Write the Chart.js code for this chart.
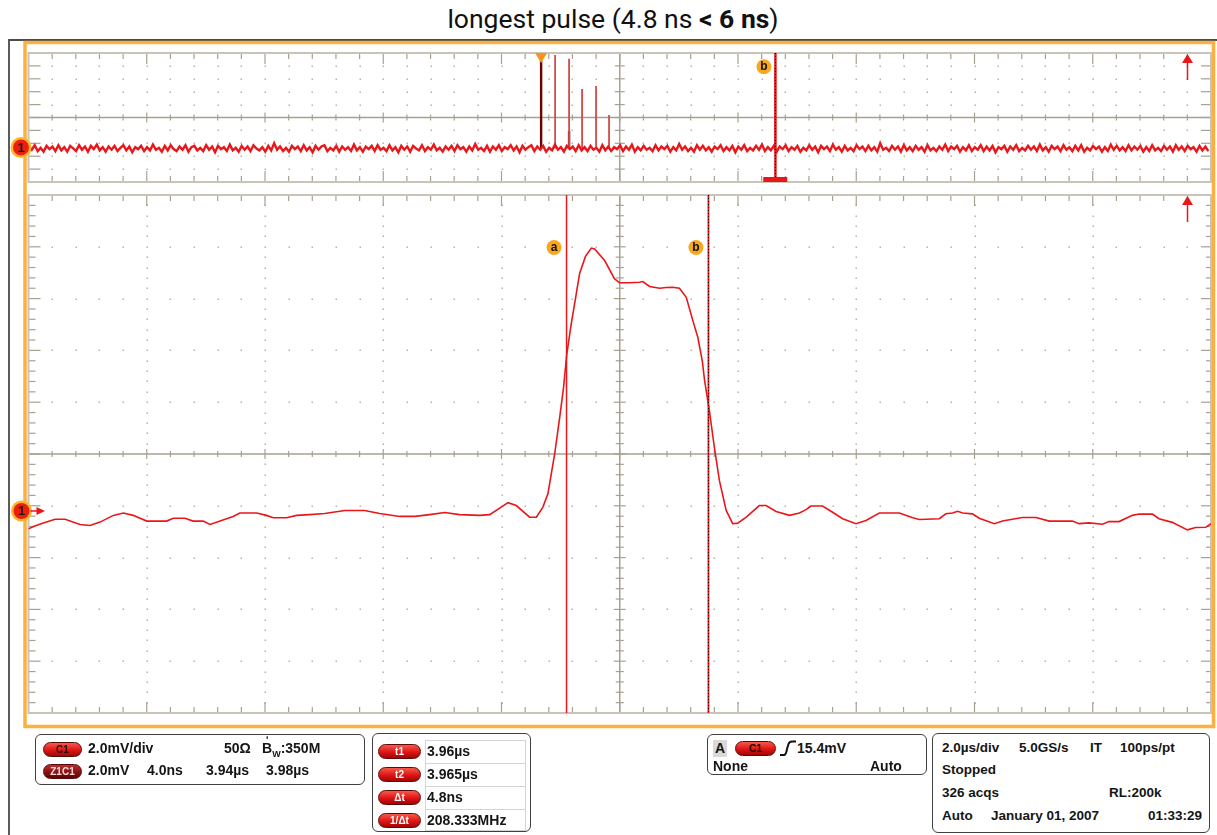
<!DOCTYPE html>
<html>
<head>
<meta charset="utf-8">
<script src="https://cdn.jsdelivr.net/npm/chart.js@4.4.0/dist/chart.umd.min.js"></script>
<style>
  body { margin: 0; background: #fff; }
  #page { position: relative; width: 1217px; height: 835px; overflow: hidden; }
  canvas { position: absolute; left: 0; top: 0; }
  #title { position: absolute; left: 9px; width: 1208px; top: 3px; line-height: 30px; text-align: center; font: 26.5px Roboto, sans-serif; color: #111; }
  .box { position: absolute; border: 1.5px solid #404040; border-radius: 6px; box-sizing: border-box; background: #fff; }
  .t { position: absolute; font: bold 14px "Liberation Sans", Arial, sans-serif; color: #151515; line-height: 16px; white-space: nowrap; }
  .s { font-size: 13.5px; }
  .pill { position: absolute; height: 15px; border-radius: 8px; box-sizing: border-box; border: 1px solid #5a0a0a;
          background: linear-gradient(#f65a4a, #de1414 55%, #a00606); font: bold 10px "Liberation Sans", Arial, sans-serif;
          text-align: center; line-height: 13px; color: #2a0000; }
  .pill.dark { background: linear-gradient(#b83030, #8a1010 55%, #5a0505); color: #ffdada; }
  .pill.light { color: #fff; }
  .cell { position: absolute; border: 1px solid #d4d4d4; box-sizing: border-box; }
</style>
</head>
<body>
<div id="page">
  <div id="title">longest pulse (4.8 ns <b>&lt; 6 ns</b>)</div>
  <canvas id="zoomChart" width="1217" height="835"></canvas>
  <canvas id="overviewChart" width="1217" height="835"></canvas>

  <div class="box" style="left:35px;top:734px;width:330px;height:51px"></div>
  <div class="pill" style="left:43px;top:742px;width:39px">C1</div>
  <div class="t" style="left:88px;top:740px">2.0mV/div</div>
  <div class="t" style="left:224px;top:740px">50Ω</div>
  <div class="t" style="left:262px;top:740px">B<span style="font-size:9px;position:relative;top:4px">W</span>:350M</div>
  <div class="t" style="left:266px;top:733px;font-size:10px">ʹ</div>
  <div class="pill dark" style="left:43px;top:764px;width:39px">Z1C1</div>
  <div class="t" style="left:88px;top:762px">2.0mV</div>
  <div class="t" style="left:147px;top:762px">4.0ns</div>
  <div class="t" style="left:206px;top:762px">3.94µs</div>
  <div class="t" style="left:266px;top:762px">3.98µs</div>

  <div class="box" style="left:372px;top:733px;width:159px;height:99px"></div>
  <div class="cell" style="left:425px;top:740px;width:101px;height:24px"></div>
  <div class="cell" style="left:425px;top:763px;width:101px;height:24px"></div>
  <div class="cell" style="left:425px;top:786px;width:101px;height:24px"></div>
  <div class="cell" style="left:425px;top:809px;width:101px;height:22px"></div>
  <div class="pill light" style="left:378px;top:744px;width:43px">t1</div>
  <div class="pill light" style="left:378px;top:767px;width:43px">t2</div>
  <div class="pill light" style="left:378px;top:790px;width:43px">Δt</div>
  <div class="pill light" style="left:378px;top:813px;width:43px">1/Δt</div>
  <div class="t" style="left:427px;top:743px">3.96µs</div>
  <div class="t" style="left:427px;top:766px">3.965µs</div>
  <div class="t" style="left:427px;top:789px">4.8ns</div>
  <div class="t" style="left:427px;top:812px">208.333MHz</div>

  <div class="box" style="left:707px;top:734px;width:220px;height:41px"></div>
  <div class="t" style="left:713px;top:740px;width:14px;height:17px;background:#d9d9d9;text-align:center;line-height:17px">A</div>
  <div class="pill" style="left:735px;top:741px;width:41px">C1</div>
  <svg style="position:absolute;left:779px;top:740px" width="18" height="17">
    <path d="M1 15 H5 Q7 15 8 9 L9.5 4 Q10.5 1.5 13 1.5 H17" fill="none" stroke="#111" stroke-width="2"/>
  </svg>
  <div class="t" style="left:797px;top:740px">15.4mV</div>
  <div class="t" style="left:713px;top:758px">None</div>
  <div class="t" style="left:870px;top:758px">Auto</div>

  <div class="box" style="left:932px;top:733px;width:278px;height:100px"></div>
  <div class="t s" style="left:942px;top:740px">2.0µs/div</div>
  <div class="t s" style="left:1019px;top:740px">5.0GS/s</div>
  <div class="t s" style="left:1090px;top:740px">IT</div>
  <div class="t s" style="left:1120px;top:740px">100ps/pt</div>
  <div class="t s" style="left:942px;top:762px">Stopped</div>
  <div class="t s" style="left:942px;top:785px">326 acqs</div>
  <div class="t s" style="left:1109px;top:785px">RL:200k</div>
  <div class="t s" style="left:942px;top:808px">Auto</div>
  <div class="t s" style="left:991px;top:808px">January 01, 2007</div>
  <div class="t s" style="left:1148px;top:808px">01:33:29</div>
</div>
<script>
// overview record (top panel): time in µs, trigger at 0, level in mV
const overviewRange = [-8.67, 11.33];
const overviewLevels = [-5.2, 14.8];
const noiseStart = -8.665;
const noiseStep = 0.05;
const overviewNoise = [
  0.3, -0.2, 0.5, -0.4, 0.1, -0.5, 0.4, -0.1, 0.3, -0.4,
  0.5, -0.3, 0.2, -0.5, 0.4, 0.0, -0.4, 0.5, -0.2, 0.3,
  -0.5, 0.4, -0.1, 0.6, -0.3, 0.2, -0.5, 0.3, -0.2, 0.4,
  -0.4, 0.1, 0.5, -0.3, 0.3, -0.6, 0.2, -0.1, 0.4, -0.4,
  0.2, -0.3, 0.6, -0.2, 0.1, -0.5, 0.4, -0.3, 0.5, -0.1,
  -0.4, 0.3, -0.2, 0.5, -0.5, 0.2, 0.4, -0.3, 0.1, -0.4,
  0.5, -0.2, 0.3, -0.6, 0.4, -0.1, 0.2, -0.4, 0.6, -0.3,
  0.1, -0.5, 0.4, -0.2, 0.3, -0.4, 0.5, 0.0, -0.3, 0.2,
  -0.5, 0.4, -0.3, 0.8, -0.2, 0.3, -0.4, 0.1, -0.5, 0.4,
  -0.1, 0.3, -0.4, 0.5, -0.3, 0.2, -0.6, 0.4, -0.2, 0.3,
  0.5, -0.4, 0.1, -0.3, 0.4, -0.5, 0.3, -0.2, 0.2, -0.4,
  0.6, -0.3, 0.2, -0.5, 0.3, -0.1, 0.4, -0.4, 0.5, -0.2,
  0.1, -0.4, 0.5, -0.3, 0.2, -0.6, 0.4, -0.2, 0.3, -0.5,
  0.4, 0.0, -0.3, 0.5, -0.4, 0.2, -0.2, 0.6, -0.3, 0.1,
  -0.5, 0.3, -0.2, 0.4, -0.4, 0.5, -0.1, 0.2, -0.5, 0.3,
  -0.3, 0.7, -0.2, 0.1, -0.4, 0.4, -0.5, 0.3, -0.2, 0.5,
  -0.4, 0.2, -0.1, 0.5, -0.3, 0.3, -0.6, 0.4, -0.2, 0.2,
  0.5, -0.4, 0.3, -0.2, 0.4, -0.5, 0.1, -0.3, 0.6, -0.2,
  0.2, -0.5, 0.4, -0.1, 0.3, -0.4, 0.5, -0.3, 0.2, -0.4,
  0.4, -0.2, 0.1, -0.5, 0.5, -0.3, 0.3, -0.4, 0.2, -0.1,
  0.5, -0.4, 0.3, -0.2, 0.6, -0.5, 0.2, -0.3, 0.4, -0.2,
  0.1, -0.4, 0.5, -0.3, 0.3, -0.1, 0.4, -0.5, 0.2, -0.3,
  0.7, -0.2, 0.3, -0.4, 0.1, -0.5, 0.5, -0.2, 0.4, -0.3,
  0.2, -0.5, 0.3, -0.1, 0.5, -0.4, 0.2, -0.3, 0.4, -0.6,
  0.3, -0.2, 0.5, -0.4, 0.1, -0.3, 0.4, -0.2, 0.6, -0.4,
  0.2, -0.3, 0.4, -0.5, 0.3, -0.1, 0.5, -0.4, 0.2, -0.2,
  0.4, -0.5, 0.1, -0.3, 0.5, -0.2, 0.3, -0.6, 0.4, -0.1,
  0.3, -0.4, 0.6, -0.2, 0.2, -0.5, 0.4, -0.3, 0.1, -0.4,
  0.5, -0.1, 0.3, -0.4, 0.4, -0.3, 0.2, -0.5, 0.8, -0.2,
  0.1, -0.4, 0.4, -0.2, 0.3, -0.5, 0.5, -0.3, 0.2, -0.4,
  0.4, -0.2, 0.2, -0.5, 0.5, -0.3, 0.1, -0.4, 0.3, -0.2,
  0.6, -0.4, 0.3, -0.1, 0.4, -0.5, 0.2, -0.3, 0.5, -0.4,
  0.2, -0.2, 0.5, -0.4, 0.3, -0.3, 0.4, -0.6, 0.2, -0.1,
  0.4, -0.5, 0.3, -0.2, 0.5, -0.4, 0.1, -0.3, 0.4, -0.2,
  0.3, -0.4, 0.6, -0.3, 0.2, -0.5, 0.4, -0.1, 0.3, -0.4,
  0.5, -0.2, 0.2, -0.4, 0.4, -0.3, 0.5, -0.5, 0.1, -0.3,
  0.4, -0.1, 0.3, -0.5, 0.2, -0.4, 0.6, -0.2, 0.4, -0.3,
  0.2, -0.4, 0.5, -0.3, 0.3, -0.2, 0.4, -0.5, 0.2, -0.4,
  0.5, -0.3, 0.1, -0.4, 0.4, -0.2, 0.3, -0.5, 0.5, -0.2,
  0.3, -0.4, 0.4, -0.1, 0.2, -0.5, 0.4, -0.3, 0.3, -0.4,
];
const spikeTimes = [0.237, 0.473, 0.693, 0.929, 1.149, 3.96];
const spikePeaks = [14.5, 13.9, 9.2, 9.7, 5.2, 12.5];
const triggerSpikes = [[0, 14.8], [0.473, 2.7]];
const zoomWindow = 3.96;

// zoom window (bottom panel): time in ns, level in mV
const zoomRange = [3940, 3980];
const zoomLevels = [-7.8, 12.2];
const pulseTimes = [
  3940.0, 3940.17, 3940.5, 3940.9, 3941.24, 3941.74, 3942.08, 3942.42, 3942.87, 3943.21,
  3943.54, 3944.0, 3944.67, 3944.9, 3945.29, 3945.57, 3945.91, 3946.14, 3946.48, 3946.92,
  3947.15, 3947.72, 3948.05, 3948.28, 3948.73, 3949.07, 3949.51, 3950.02, 3950.7, 3951.37,
  3951.88, 3952.56, 3953.07, 3953.57, 3954.08, 3954.58, 3955.26, 3955.6, 3956.22, 3956.5,
  3956.95, 3957.18, 3957.4, 3957.57, 3957.8, 3957.97, 3958.1, 3958.21, 3958.36, 3958.53,
  3958.64, 3958.84, 3959.04, 3959.15, 3959.49, 3959.82, 3959.99, 3960.33, 3960.67, 3960.78,
  3961.01, 3961.35, 3961.57, 3961.79, 3962.02, 3962.25, 3962.47, 3962.64, 3962.79, 3962.87,
  3963.03, 3963.2, 3963.37, 3963.6, 3963.82, 3963.99, 3964.28, 3964.72, 3964.95, 3965.29,
  3965.74, 3966.08, 3966.3, 3966.47, 3966.86, 3967.2, 3967.54, 3967.99, 3968.33, 3968.78,
  3969.46, 3969.91, 3970.13, 3970.81, 3971.03, 3971.26, 3971.43, 3971.6, 3971.93, 3972.16,
  3972.67, 3972.95, 3973.28, 3973.62, 3974.08, 3974.53, 3975.31, 3975.54, 3975.88, 3976.33,
  3976.55, 3976.89, 3977.34, 3977.57, 3978.02, 3978.24, 3978.69, 3979.2, 3979.48, 3979.82, 3980.0,
];
const pulseValues = [
  -0.69, -0.60, -0.46, -0.32, -0.32, -0.52, -0.56, -0.43, -0.17, -0.08,
  -0.17, -0.39, -0.39, -0.28, -0.28, -0.39, -0.39, -0.52, -0.39, -0.21,
  -0.08, -0.08, -0.17, -0.26, -0.26, -0.17, -0.14, -0.10, 0.02, 0.02,
  -0.10, -0.21, -0.21, -0.14, -0.06, -0.14, -0.17, -0.14, 0.32, 0.21,
  -0.24, -0.24, 0.15, 0.66, 2.21, 3.62, 4.78, 6.07, 7.23, 8.39,
  9.16, 9.83, 10.15, 10.12, 9.67, 8.97, 8.81, 8.81, 8.83, 8.86,
  8.67, 8.60, 8.63, 8.64, 8.60, 8.25, 7.36, 6.71, 5.81, 5.04,
  3.88, 2.46, 1.18, 0.02, -0.49, -0.47, -0.24, 0.21, 0.21, -0.02,
  -0.17, -0.08, 0.05, 0.19, 0.19, -0.05, -0.30, -0.49, -0.37, -0.08,
  -0.08, -0.26, -0.33, -0.30, -0.11, -0.08, -0.01, -0.08, -0.11, -0.28,
  -0.49, -0.39, -0.32, -0.25, -0.25, -0.39, -0.39, -0.49, -0.46, -0.51,
  -0.41, -0.41, -0.17, -0.12, -0.12, -0.30, -0.44, -0.73, -0.64, -0.63, -0.49,
];
const cursorA = 3958.2;
const cursorB = 3963.0;

const traceRed = "#e8171a";
const gratColor = "#a7a191";

const line = (ctx, x1, y1, x2, y2) => {
  ctx.beginPath();
  ctx.moveTo(x1, y1);
  ctx.lineTo(x2, y2);
  ctx.stroke();
};

const disc = (ctx, x, y, r, color) => {
  ctx.fillStyle = color;
  ctx.beginPath();
  ctx.arc(x, y, r, 0, Math.PI * 2);
  ctx.fill();
};

// scope graticule: 10 x 10 divisions, 5 minor ticks per division
// (the overview panel is squashed, so it only has whole divisions vertically)
function drawGraticule(ctx, a, squashed) {
  const w = a.right - a.left, h = a.bottom - a.top;
  const sx = w / 50;
  const ny = squashed ? 10 : 50;
  const sy = h / ny;
  const cx = a.left + w / 2, cy = a.top + h / 2;
  ctx.save();
  ctx.fillStyle = "#b9b3a4";
  for (let k = 1; k < 50; k++) {
    for (let j = 1; j < 10; j++) {
      if (j === 5 || k === 25) continue;
      ctx.fillRect(Math.round(a.left + k * sx) - 0.5, Math.round(a.top + j * h / 10) - 0.5, 1.5, 1.5);
    }
  }
  if (!squashed) {
    for (let i = 1; i < 10; i++) {
      if (i === 5) continue;
      for (let k = 1; k < 50; k++) {
        if (k % 5 === 0) continue;
        ctx.fillRect(Math.round(a.left + i * w / 10) - 0.5, Math.round(a.top + k * sy) - 0.5, 1.5, 1.5);
      }
    }
  }
  ctx.strokeStyle = gratColor;
  ctx.lineWidth = 1.5;
  line(ctx, cx, a.top, cx, a.bottom);
  line(ctx, a.left, cy, a.right, cy);
  ctx.lineWidth = 1.2;
  for (let k = 1; k < 50; k++) {
    const x = a.left + k * sx;
    const c = k % 5 === 0 ? 5 : 3;
    line(ctx, x, cy - c, x, cy + c);
    const e = k % 5 === 0 ? 11 : 6;
    line(ctx, x, a.top, x, a.top + e);
    line(ctx, x, a.bottom, x, a.bottom - e);
  }
  for (let k = 1; k < ny; k++) {
    const y = a.top + k * sy;
    const major = squashed || k % 5 === 0;
    const c = squashed ? 5 : (major ? 6 : 4);
    line(ctx, cx - c, y, cx + c, y);
    line(ctx, a.left, y, a.left + (major ? 12 : 7), y);
    line(ctx, a.right, y, a.right - (major ? 10 : 5), y);
  }
  ctx.strokeStyle = "#c9c4b8";
  ctx.lineWidth = 2;
  ctx.strokeRect(a.left, a.top, w, h);
  ctx.restore();
}

function groundMarker(ctx, x, y, arrow) {
  disc(ctx, x, y, 10.5, "#fdb52a");
  disc(ctx, x, y, 8, "#ee1d10");
  ctx.fillStyle = "#1a1a1a";
  ctx.font = "bold 13px 'Liberation Sans', Arial, sans-serif";
  ctx.textAlign = "center";
  ctx.textBaseline = "middle";
  ctx.fillText("1", x, y + 0.5);
  if (arrow) {
    ctx.strokeStyle = traceRed;
    ctx.lineWidth = 1.5;
    line(ctx, x + 9, y, x + 17, y);
    ctx.fillStyle = traceRed;
    ctx.beginPath();
    ctx.moveTo(x + 15, y - 4);
    ctx.lineTo(x + 23.5, y);
    ctx.lineTo(x + 15, y + 4);
    ctx.fill();
  }
}

function cursorLabel(ctx, x, y, text) {
  disc(ctx, x, y, 7.5, "#f6a821");
  ctx.fillStyle = "#111";
  ctx.font = "bold 12px 'Liberation Sans', Arial, sans-serif";
  ctx.textAlign = "center";
  ctx.textBaseline = "middle";
  ctx.fillText(text, x, y);
}

function upArrow(ctx, x, tip, bottom) {
  ctx.strokeStyle = traceRed;
  ctx.lineWidth = 1.5;
  line(ctx, x, tip + 8, x, bottom);
  ctx.fillStyle = traceRed;
  ctx.beginPath();
  ctx.moveTo(x - 5.5, tip + 9);
  ctx.lineTo(x + 5.5, tip + 9);
  ctx.lineTo(x, tip);
  ctx.fill();
}

function cursorLine(ctx, x, top, bottom, width, dotted) {
  ctx.save();
  ctx.strokeStyle = traceRed;
  ctx.lineWidth = width;
  line(ctx, x, top, x, bottom);
  if (dotted) {
    ctx.strokeStyle = "#000";
    ctx.lineWidth = 1;
    ctx.setLineDash([1, 2]);
    line(ctx, x, top, x, bottom);
  }
  ctx.restore();
}

const framePlugin = {
  id: "frame",
  beforeDraw: (chart) => {
    const ctx = chart.ctx;
    ctx.save();
    ctx.strokeStyle = "#4a4a4a";
    ctx.lineWidth = 1.8;
    ctx.beginPath();
    ctx.moveTo(9, 835);
    ctx.lineTo(9, 40);
    ctx.lineTo(1217, 40);
    ctx.stroke();
    ctx.strokeStyle = "#fbb042";
    ctx.lineWidth = 3.5;
    ctx.strokeRect(25, 42.5, 1188.5, 684);
    ctx.restore();
  },
};

const zoomDecor = {
  id: "zoomDecor",
  beforeDatasetsDraw: (chart) => drawGraticule(chart.ctx, chart.chartArea, false),
  afterDatasetsDraw: (chart) => {
    const ctx = chart.ctx, a = chart.chartArea;
    const xs = chart.scales.x, ys = chart.scales.y;
    const xa = xs.getPixelForValue(cursorA), xb = xs.getPixelForValue(cursorB);
    cursorLine(ctx, xa, a.top, a.bottom, 1.5, false);
    cursorLine(ctx, xb, a.top, a.bottom, 1.8, true);
    cursorLabel(ctx, xa - 12.5, a.top + 52.5, "a");
    cursorLabel(ctx, xb - 12.5, a.top + 52.5, "b");
    upArrow(ctx, 1187.5, a.top + 1, a.top + 27);
    groundMarker(ctx, 21.5, ys.getPixelForValue(0), true);
  },
};

const overviewDecor = {
  id: "overviewDecor",
  beforeDatasetsDraw: (chart) => drawGraticule(chart.ctx, chart.chartArea, true),
  afterDatasetsDraw: (chart) => {
    const ctx = chart.ctx, a = chart.chartArea;
    const xs = chart.scales.x, ys = chart.scales.y;
    const xt = xs.getPixelForValue(0);
    ctx.fillStyle = "#f7931e";
    ctx.beginPath();
    ctx.moveTo(xt - 6, a.top);
    ctx.lineTo(xt + 6, a.top);
    ctx.lineTo(xt, a.top + 10);
    ctx.fill();
    const xb = xs.getPixelForValue(cursorB / 1000);
    cursorLine(ctx, xb, a.top, a.bottom, 2.5, true);
    ctx.fillStyle = traceRed;
    const xw = xs.getPixelForValue(zoomWindow);
    ctx.fillRect(xw - 12, a.bottom - 5, 24, 5);
    cursorLabel(ctx, xb - 11.5, a.top + 13.7, "b");
    upArrow(ctx, 1187.5, a.top + 1, a.top + 27);
    groundMarker(ctx, 21, ys.getPixelForValue(0) - 1, false);
  },
};

const baseOptions = (xRange, yRange, padding) => ({
  responsive: false,
  animation: false,
  events: [],
  layout: { padding: padding },
  elements: { point: { radius: 0 }, line: { tension: 0 } },
  scales: {
    x: { type: "linear", min: xRange[0], max: xRange[1], display: false },
    y: { type: "linear", min: yRange[0], max: yRange[1], display: false },
  },
  plugins: { legend: { display: false }, tooltip: { enabled: false } },
});

new Chart(document.getElementById("zoomChart"), {
  type: "line",
  data: {
    datasets: [{
      data: pulseTimes.map((t, i) => ({ x: t, y: pulseValues[i] })),
      borderColor: traceRed,
      borderWidth: 1.6,
    }],
  },
  options: baseOptions(zoomRange, zoomLevels, { left: 28.5, top: 195, right: 6, bottom: 122 }),
  plugins: [framePlugin, zoomDecor],
});

const spikeData = [];
spikeTimes.forEach((t, i) => spikeData.push({ x: t, y: 0 }, { x: t, y: spikePeaks[i] }, { x: t, y: null }));
const triggerData = [];
triggerSpikes.forEach(([t, peak]) => triggerData.push({ x: t, y: 0 }, { x: t, y: peak }, { x: t, y: null }));

new Chart(document.getElementById("overviewChart"), {
  type: "line",
  data: {
    datasets: [
      {
        data: overviewNoise.map((v, i) => ({ x: noiseStart + i * noiseStep, y: v })),
        borderColor: traceRed,
        borderWidth: 2.4,
      },
      { data: spikeData, borderColor: "#d44a4a", borderWidth: 1.8 },
      { data: triggerData, borderColor: "#6e0000", borderWidth: 2.4 },
    ],
  },
  options: baseOptions(overviewRange, overviewLevels, { left: 28.5, top: 53, right: 6, bottom: 653 }),
  plugins: [overviewDecor],
});
</script>
</body>
</html>
